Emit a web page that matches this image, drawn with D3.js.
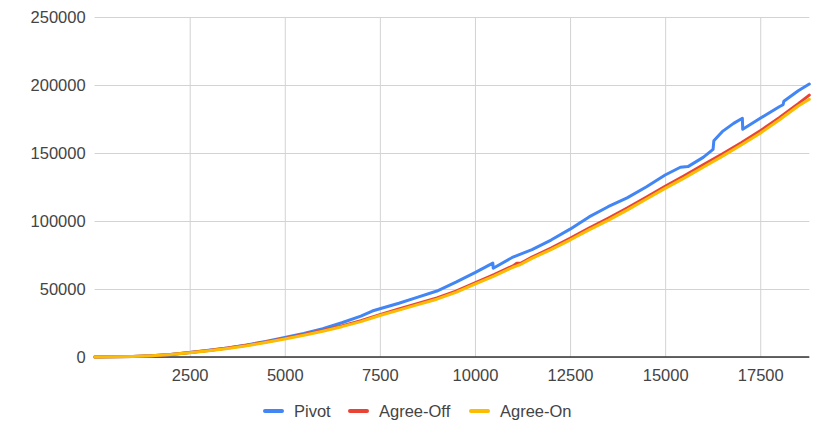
<!DOCTYPE html>
<html>
<head>
<meta charset="utf-8">
<script src="https://cdn.jsdelivr.net/npm/d3@7"></script>
<style>
  html, body { margin: 0; padding: 0; background: #fff; }
  svg { display: block; font-family: Arial, "Liberation Sans", sans-serif; }
</style>
</head>
<body>
<svg id="chart" width="823" height="423"></svg>
<script>
// Cumulative totals per step for the three runs
const steps = [0, 500, 1000, 1500, 2000, 2500, 3000, 3500, 4000, 4500,
  5000, 5500, 6000, 6500, 7000, 7500, 8000, 8500, 9000, 9500,
  10000, 10500, 11000, 11100, 11200, 11500, 12000, 12500, 13000, 13500,
  14000, 14500, 15000, 15500, 16000, 16500, 17000, 17500, 18000, 18500, 18790];

const agreeOff = [0, 160, 420, 950, 1900, 3250, 4800, 6600, 8600, 11000,
  13700, 16500, 19500, 22900, 26700, 31200, 35300, 39300, 43400, 48400,
  54500, 60500, 67000, 69000, 68900, 73500, 80000, 87200, 94800, 102000,
  109500, 117500, 125500, 133300, 141300, 149300, 157500, 166300, 176000, 186300, 192600];

const agreeOn = [0, 150, 400, 900, 1800, 3100, 4600, 6300, 8300, 10700,
  13300, 16000, 19000, 22300, 26000, 30500, 34500, 38500, 42500, 47500,
  53500, 59500, 66000, 67000, 68000, 72500, 79000, 86000, 93500, 100500,
  108000, 116000, 124000, 131500, 139500, 147500, 155900, 164500, 174300, 184600, 189500];

const pivotSteps = [0, 500, 1000, 1500, 2000, 2500, 3000, 3500, 4000, 4500,
  5000, 5500, 6000, 6500, 7000, 7300, 7500, 8000, 8500, 9000,
  9500, 10000, 10470, 10480, 11000, 11500, 12000, 12500, 13000, 13500,
  14000, 14500, 15000, 15400, 15600, 16000, 16260, 16280, 16500, 16800,
  17030, 17040, 17500, 18000, 18100, 18120, 18500, 18790];

const pivot = [0, 160, 450, 950, 1900, 3300, 4900, 6700, 8900, 11400,
  14300, 17300, 20800, 25200, 30000, 33800, 35500, 39500, 44000, 48500,
  55000, 62000, 69000, 65300, 73500, 79000, 86000, 94000, 103000, 110500,
  117000, 125000, 133800, 139500, 140000, 146800, 152700, 159000, 165700, 171800,
  175500, 167400, 175500, 184000, 185500, 188000, 195800, 200700];

const xTicks = [2500, 5000, 7500, 10000, 12500, 15000, 17500];
const yTicks = [0, 50000, 100000, 150000, 200000, 250000];

const seriesNames = ["Pivot", "Agree-Off", "Agree-On"];
const seriesColors = ["#4285f4", "#ea4335", "#fbbc04"];

const series = [
  { name: seriesNames[0], color: seriesColors[0], xs: pivotSteps, ys: pivot },
  { name: seriesNames[1], color: seriesColors[1], xs: steps, ys: agreeOff },
  { name: seriesNames[2], color: seriesColors[2], xs: steps, ys: agreeOn }
];

const svg = d3.select("#chart");
const plotLeft = 94.6, plotRight = 809.3, plotTop = 17, plotBottom = 357;

const x = d3.scaleLinear().domain([0, 18790]).range([plotLeft, plotRight]);
const y = d3.scaleLinear().domain([0, 250000]).range([plotBottom, plotTop]);

const textColor = "#444";
const fontSize = "16.5px";

// Horizontal gridlines + y labels
const yAxis = d3.axisLeft(y).tickValues(yTicks).tickSize(-(plotRight - plotLeft)).tickPadding(9).tickFormat(d3.format("d"));
const gy = svg.append("g").attr("transform", `translate(${plotLeft},0)`).call(yAxis);
gy.select(".domain").remove();
gy.selectAll(".tick line").attr("stroke", "#d3d3d3").attr("stroke-width", 1);
gy.selectAll(".tick text").attr("fill", textColor).style("font-size", fontSize)
  .attr("font-family", "Arial, 'Liberation Sans', sans-serif").attr("dy", "0.36em");

// Vertical gridlines + x labels
const xAxis = d3.axisBottom(x).tickValues(xTicks).tickSize(-(plotBottom - plotTop)).tickPadding(12).tickFormat(d3.format("d"));
const gx = svg.append("g").attr("transform", `translate(0,${plotBottom})`).call(xAxis);
gx.select(".domain").remove();
gx.selectAll(".tick line").attr("stroke", "#d3d3d3").attr("stroke-width", 1);
gx.selectAll(".tick text").attr("fill", textColor).style("font-size", fontSize)
  .attr("font-family", "Arial, 'Liberation Sans', sans-serif");

// Baseline
svg.append("line")
  .attr("x1", plotLeft).attr("x2", plotRight)
  .attr("y1", y(0)).attr("y2", y(0))
  .attr("stroke", "#333").attr("stroke-width", 1.5);

// Series lines
const line = d3.line()
  .x(d => x(d[0]))
  .y(d => y(d[1]));

svg.append("g").selectAll("path")
  .data(series)
  .join("path")
  .attr("d", s => line(s.xs.map((v, i) => [v, s.ys[i]])))
  .attr("fill", "none")
  .attr("stroke", s => s.color)
  .attr("stroke-width", 3)
  .attr("stroke-linejoin", "round")
  .attr("stroke-linecap", "round");

// Legend
const legendItems = [
  { x: 265, tx: 294 },
  { x: 350, tx: 379 },
  { x: 471, tx: 500 }
];
const legend = svg.append("g");
series.forEach((s, i) => {
  legend.append("line")
    .attr("x1", legendItems[i].x).attr("x2", legendItems[i].x + 17)
    .attr("y1", 411).attr("y2", 411)
    .attr("stroke", s.color).attr("stroke-width", 4)
    .attr("stroke-linecap", "round");
  legend.append("text")
    .attr("x", legendItems[i].tx).attr("y", 411)
    .attr("dy", "0.36em")
    .attr("fill", textColor)
    .style("font-size", fontSize)
    .text(s.name);
});
</script>
</body>
</html>
